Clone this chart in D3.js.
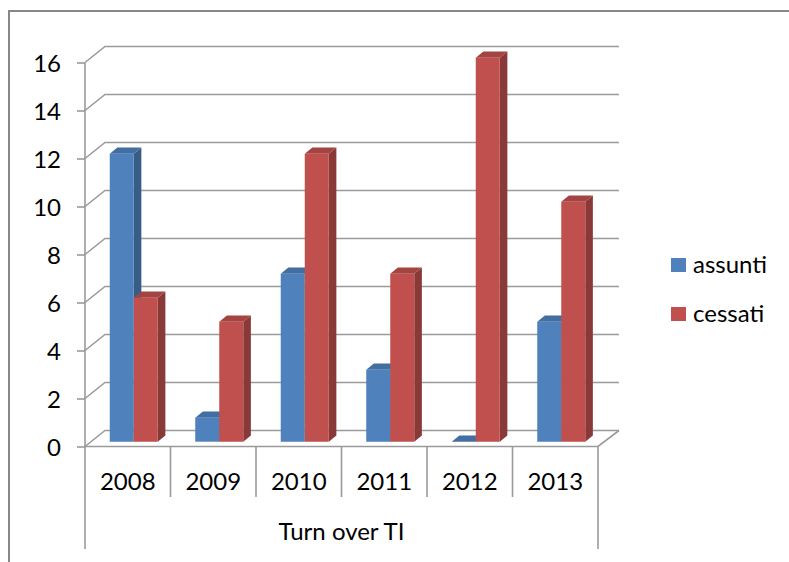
<!DOCTYPE html>
<html>
<head>
<meta charset="utf-8">
<script src="https://cdn.jsdelivr.net/npm/d3@7"></script>
<style>
  body { margin: 0; background: #fff; }
  svg text { font-family: Lato, "Liberation Sans", sans-serif; fill: #000; }
</style>
</head>
<body>
<svg id="chart" width="789" height="562"></svg>
<script>
// Data
var years = ["2008", "2009", "2010", "2011", "2012", "2013"];
var seriesNames = ["assunti", "cessati"];
var assunti = [12, 1, 7, 3, 0, 5];
var cessati = [6, 5, 12, 7, 16, 10];
var yTicks = [0, 2, 4, 6, 8, 10, 12, 14, 16];
var axisTitle = "Turn over TI";
var colors = ["#4F81BD", "#C0504D"];

var svg = d3.select("#chart");
var fontSize = "24px";

// Outer chart frame (runs off the right and bottom edges)
svg.append("rect")
	.attr("x", 9).attr("y", 11)
	.attr("width", 800).attr("height", 600)
	.attr("fill", "none")
	.attr("stroke", "#878787")
	.attr("stroke-width", 2);

// Front plane scales
var y = d3.scaleLinear().domain([0, 16]).range([446.5, 62.5]);
var x0 = d3.scaleBand().domain(years).range([85, 598]);
var x1 = d3.scaleBand().domain(seriesNames).range([0, x0.bandwidth()])
	.paddingInner(0).paddingOuter(0.78);

// 3D depth of the plot box (front -> back wall)
var depthX = 20, depthY = -16;
function proj(x, yy, t) { return [x + depthX * t, yy + depthY * t]; }

var gridColor = "#9a9a9a";
var grid = svg.append("g");

// Back wall gridlines + side wall diagonals
yTicks.forEach(function(v) {
	var a = proj(85, y(v), 0), b = proj(85, y(v), 1), c = proj(598, y(v), 1);
	grid.append("path")
		.attr("d", "M" + a + "L" + b + "L" + [c[0] + 1, c[1]])
		.attr("fill", "none")
		.attr("stroke", gridColor)
		.attr("stroke-width", 1.6);
});

// Floor: front edge and right diagonal
var f0 = proj(598, y(0), 0), f1 = proj(598, y(0), 1);
grid.append("path")
	.attr("d", "M85," + y(0) + "L" + f0 + "L" + [f1[0] + 1, f1[1]])
	.attr("fill", "none")
	.attr("stroke", gridColor)
	.attr("stroke-width", 1.6);

// Value axis (ticks + labels on the front plane)
var yAxis = svg.append("g")
	.attr("transform", "translate(85,0)")
	.call(d3.axisLeft(y).tickValues(yTicks).tickSize(8).tickPadding(16));
yAxis.select(".domain").remove();
yAxis.selectAll(".tick line").attr("stroke", gridColor).attr("stroke-width", 1.6);
yAxis.selectAll(".tick text")
	.style("font-size", fontSize)
	.attr("dy", "0.36em");

// Vertical axis line running down through the category area
svg.append("line")
	.attr("x1", 85).attr("x2", 85)
	.attr("y1", y(16)).attr("y2", 549)
	.attr("stroke", gridColor).attr("stroke-width", 1.6);
svg.append("line")
	.attr("x1", 598).attr("x2", 598)
	.attr("y1", y(0)).attr("y2", 549)
	.attr("stroke", gridColor).attr("stroke-width", 1.6);

// Category dividers
svg.selectAll("line.divider")
	.data(years.slice(1))
	.enter().append("line")
	.attr("class", "divider")
	.attr("x1", function(d) { return x0(d); })
	.attr("x2", function(d) { return x0(d); })
	.attr("y1", y(0))
	.attr("y2", 497)
	.attr("stroke", gridColor)
	.attr("stroke-width", 1.6);

// Category labels
svg.selectAll("text.year")
	.data(years)
	.enter().append("text")
	.attr("class", "year")
	.attr("x", function(d) { return x0(d) + x0.bandwidth() / 2; })
	.attr("y", 481)
	.attr("dy", "0.36em")
	.attr("text-anchor", "middle")
	.style("font-size", fontSize)
	.text(function(d) { return d; });

svg.append("text")
	.attr("x", (85 + 598) / 2)
	.attr("y", 531)
	.attr("dy", "0.36em")
	.attr("text-anchor", "middle")
	.style("font-size", fontSize)
	.text(axisTitle);

// Bars: 3D boxes sitting in the middle of the depth
var barFront = 0.3, barBack = 0.68;
var bars = [];
years.forEach(function(yr, i) {
	[assunti, cessati].forEach(function(vals, s) {
		bars.push({ year: yr, series: seriesNames[s], value: vals[i], color: colors[s] });
	});
});

function poly(pts) { return "M" + pts.join("L") + "Z"; }

var barG = svg.selectAll("g.bar")
	.data(bars)
	.enter().append("g")
	.attr("class", "bar");

barG.each(function(d) {
	var g = d3.select(this);
	var xl = x0(d.year) + x1(d.series), xr = xl + x1.bandwidth();
	var yt = y(d.value), yb = y(0);
	var base = d3.color(d.color);

	// side face
	g.append("path")
		.attr("d", poly([proj(xr, yb, barFront), proj(xr, yb, barBack), proj(xr, yt, barBack), proj(xr, yt, barFront)]))
		.attr("fill", base.darker(0.95));
	// top face
	g.append("path")
		.attr("d", poly([proj(xl, yt, barFront), proj(xr, yt, barFront), proj(xr, yt, barBack), proj(xl, yt, barBack)]))
		.attr("fill", base.darker(0.45));
	// front face
	if (d.value > 0)
		g.append("path")
			.attr("d", poly([proj(xl, yb, barFront), proj(xr, yb, barFront), proj(xr, yt, barFront), proj(xl, yt, barFront)]))
			.attr("fill", d.color);
});

// Legend
var legend = svg.selectAll("g.legend")
	.data(seriesNames)
	.enter().append("g")
	.attr("class", "legend")
	.attr("transform", function(d, i) { return "translate(671," + (258 + i * 49) + ")"; });
legend.append("rect")
	.attr("width", 15).attr("height", 14)
	.attr("fill", function(d, i) { return colors[i]; });
legend.append("text")
	.attr("x", 22).attr("y", 15)
	.style("font-size", fontSize)
	.text(function(d) { return d; });
</script>
</body>
</html>
